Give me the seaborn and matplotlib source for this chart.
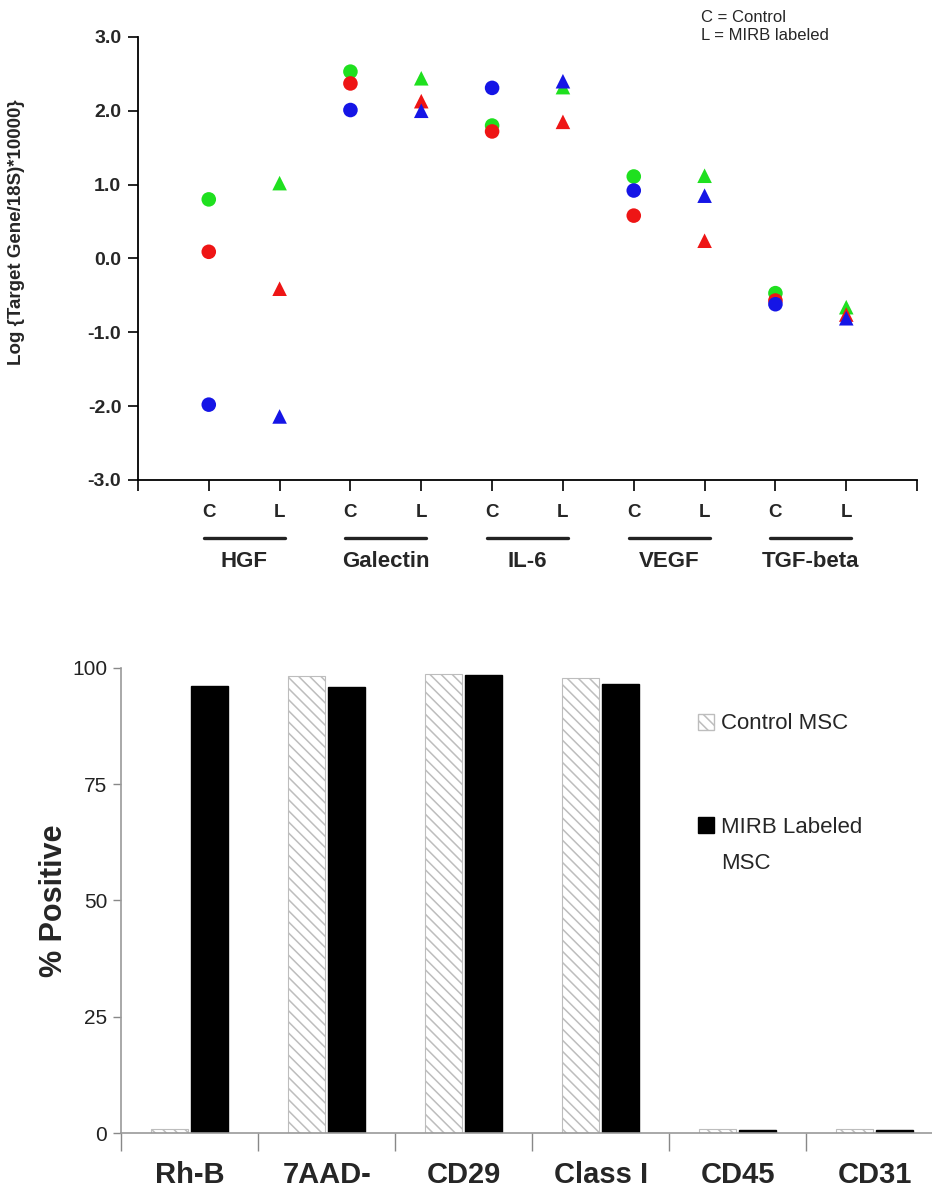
import numpy as np
import pandas as pd
import matplotlib
matplotlib.use("Agg")
import matplotlib.pyplot as plt
import matplotlib.transforms as mtransforms
from matplotlib.patches import Patch
import seaborn as sns

# --- top panel: gene expression, C = control, L = MIRB labeled ---
genes = ["HGF", "Galectin", "IL-6", "VEGF", "TGF-beta"]
conditions = ["C", "L"]
green_vals = [0.80, 1.02, 2.53, 2.44, 1.80, 2.32, 1.11, 1.12, -0.47, -0.66]
red_vals = [0.09, -0.41, 2.37, 2.13, 1.72, 1.85, 0.58, 0.24, -0.57, -0.76]
blue_vals = [-1.98, -2.14, 2.01, 2.00, 2.31, 2.40, 0.92, 0.85, -0.62, -0.81]
y_ticks_top = [-3.0, -2.0, -1.0, 0.0, 1.0, 2.0, 3.0]

# --- bottom panel: flow cytometry % positive ---
markers = ["Rh-B", "7AAD-", "CD29", "Class I", "CD45", "CD31"]
control_pct = [0.8, 98.3, 98.6, 97.8, 0.8, 0.8]
mirb_pct = [96.2, 95.9, 98.4, 96.6, 0.7, 0.7]
y_ticks_bottom = [0, 25, 50, 75, 100]

sns.set_style("white")
plt.rcParams["font.family"] = ["Liberation Sans", "DejaVu Sans"]
plt.rcParams["hatch.linewidth"] = 1.1

fig = plt.figure(figsize=(9.32, 11.99), dpi=100)

# ---------------- top panel ----------------
ax1 = fig.add_axes([0.148, 0.5997, 0.836, 0.3695])

rows = []
for series, vals in [("green", green_vals), ("red", red_vals), ("blue", blue_vals)]:
    for i, v in enumerate(vals):
        rows.append({"x": i + 1, "cond": conditions[i % 2], "series": series, "value": v})
df_top = pd.DataFrame(rows)

palette = {"green": "#1fe01f", "red": "#ee1515", "blue": "#1515e6"}
sns.scatterplot(data=df_top, x="x", y="value", hue="series", style="cond",
                markers={"C": "o", "L": "^"}, palette=palette, s=110,
                linewidth=0, legend=False, ax=ax1)

ax1.set_xlim(0, 11)
ax1.set_ylim(-3, 3)
ax1.set_yticks(y_ticks_top)
ax1.set_yticklabels([f"{t:.1f}" for t in y_ticks_top], fontsize=14, fontweight="bold")
ax1.set_xticks(range(0, 12))
ax1.set_xticklabels([""] + conditions * len(genes) + [""], fontsize=13.5, fontweight="bold")
ax1.tick_params(axis="y", direction="out", length=7, width=1.2, color="black", pad=5, left=True)
ax1.tick_params(axis="x", direction="out", length=8, width=1.2, color="black", pad=9, bottom=True)
for side in ["top", "right"]:
    ax1.spines[side].set_visible(False)
for side in ["left", "bottom"]:
    ax1.spines[side].set_color("black")
    ax1.spines[side].set_linewidth(1.3)
ax1.set_xlabel("")
ax1.set_ylabel("Log {Target Gene/18S)*10000}", fontsize=13.5, fontweight="bold")
ax1.yaxis.set_label_coords(-0.145, 0.56)

# gene group underlines and names
trans = mtransforms.blended_transform_factory(ax1.transData, ax1.transAxes)
for g, name in enumerate(genes):
    c_pos = 2 * g + 1
    ax1.plot([c_pos - 0.07, c_pos + 1.07], [-0.13, -0.13], color="#222222", lw=2.4,
             transform=trans, clip_on=False)
    ax1.text(c_pos + 0.5, -0.185, name, transform=trans, ha="center", va="center",
             fontsize=16, fontweight="bold")

fig.text(0.752, 0.985, "C = Control", fontsize=12, va="center", ha="left")
fig.text(0.752, 0.970, "L = MIRB labeled", fontsize=12, va="center", ha="left")

# ---------------- bottom panel ----------------
ax2 = fig.add_axes([0.13, 0.055, 0.882, 0.388])

df_bot = pd.DataFrame({
    "marker": markers * 2,
    "group": ["Control MSC"] * len(markers) + ["MIRB Labeled"] * len(markers),
    "pct": control_pct + mirb_pct,
})
sns.barplot(data=df_bot, x="marker", y="pct", hue="group", order=markers,
            palette=["white", "black"], width=0.58, gap=0.06, legend=False,
            errorbar=None, ax=ax2)

for bar in ax2.containers[0]:
    bar.set_facecolor("white")
    bar.set_edgecolor("#bdbdbd")
    bar.set_hatch("\\\\\\")
    bar.set_linewidth(0.8)
for bar in ax2.containers[1]:
    bar.set_facecolor("black")
    bar.set_edgecolor("black")

ax2.set_xlim(-0.5, 5.5)
ax2.set_ylim(0, 100)
ax2.set_yticks(y_ticks_bottom)
ax2.set_yticklabels([str(t) for t in y_ticks_bottom], fontsize=15, color="#222222")
ax2.set_xticks(range(len(markers)))
ax2.set_xticklabels(markers, fontsize=21, fontweight="bold")
ax2.set_xticks(np.arange(-0.5, 6.0, 1.0), minor=True)
ax2.tick_params(axis="x", which="major", length=0, pad=20)
ax2.tick_params(axis="x", which="minor", direction="out", length=13, width=1, color="#888888", bottom=True)
ax2.tick_params(axis="y", direction="out", length=6, width=1, color="#888888", pad=4, left=True)
for side in ["top", "right"]:
    ax2.spines[side].set_visible(False)
for side in ["left", "bottom"]:
    ax2.spines[side].set_color("#999999")
    ax2.spines[side].set_linewidth(1.2)
ax2.set_xlabel("")
ax2.set_ylabel("% Positive", fontsize=22, fontweight="bold")
ax2.yaxis.set_label_coords(-0.064, 0.5)

handles = [Patch(facecolor="white", edgecolor="#bdbdbd", hatch="\\\\\\", label="Control MSC"),
           Patch(facecolor="black", edgecolor="black", label="MIRB Labeled")]
leg = ax2.legend(handles=handles, loc="upper left", bbox_to_anchor=(0.677, 0.945), frameon=False,
                 fontsize=16, handlelength=0.75, handleheight=0.75, handletextpad=0.3,
                 labelspacing=3.7)

# second line of the MIRB label, placed under the legend text
fig.canvas.draw()
bb = leg.get_texts()[1].get_window_extent()
x0, y0 = fig.transFigure.inverted().transform((bb.x0, bb.y0))
fig.text(x0, y0 - 0.013, "MSC", fontsize=16, ha="left", va="top")

fig.savefig("out.png", dpi=100, facecolor="white")
